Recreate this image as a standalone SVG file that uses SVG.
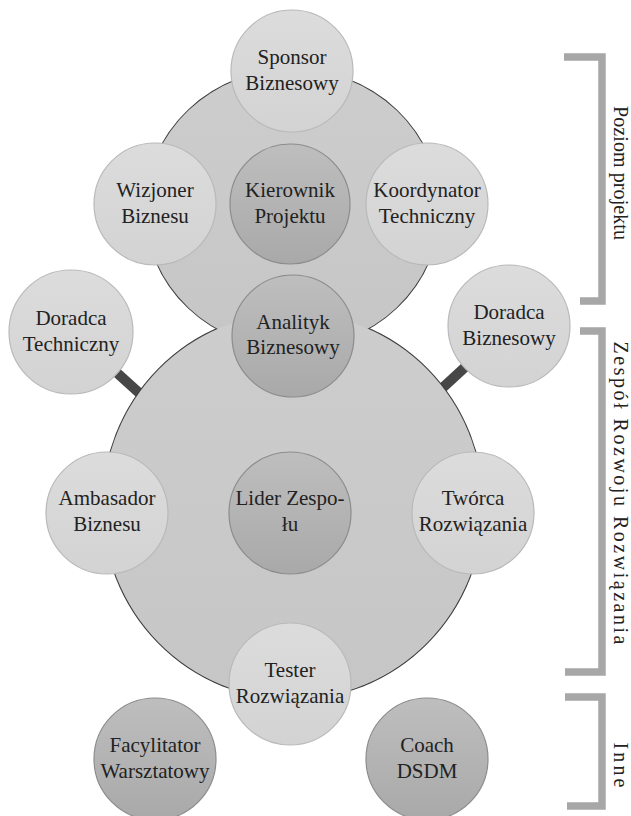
<svg xmlns="http://www.w3.org/2000/svg" width="631" height="816" viewBox="0 0 631 816">
<style>
.big-s{fill:none;stroke:#3c3c3c;stroke-width:2}
.big-f{fill:url(#gBig)}
.lt{fill:url(#gLight);stroke:#b9b9b9;stroke-width:1.2}
.dk{fill:url(#gDark);stroke:#8c8c8c;stroke-width:1.2}
.conn{stroke:#474747;stroke-width:10}
.br{fill:none;stroke:#a7a7a7;stroke-width:7.5}
</style>
<defs>
<linearGradient id="gBig" x1="0" y1="0" x2="0" y2="1"><stop offset="0" stop-color="#cdcdcd"/><stop offset="1" stop-color="#c6c6c6"/></linearGradient>
<linearGradient id="gLight" x1="0" y1="0" x2="0" y2="1"><stop offset="0" stop-color="#dcdcdc"/><stop offset="1" stop-color="#d3d3d3"/></linearGradient>
<linearGradient id="gDark" x1="0" y1="0" x2="0" y2="1"><stop offset="0" stop-color="#bebebe"/><stop offset="1" stop-color="#a9a9a9"/></linearGradient>
</defs>

<g id="connectors">
<line class="conn" x1="105" y1="362" x2="158" y2="410"/>
<line class="conn" x1="475" y1="358" x2="425" y2="404"/>
</g>

<g id="group-areas">
<ellipse class="big-s" cx="292.5" cy="209" rx="147" ry="139.5"/>
<ellipse class="big-s" cx="293" cy="506" rx="190" ry="193"/>
<ellipse class="big-f" cx="292.5" cy="209" rx="147" ry="139.5"/>
<ellipse class="big-f" cx="293" cy="506" rx="190" ry="193"/>
</g>

<g id="nodes" font-family="Liberation Serif" font-size="21" fill="#222" text-anchor="middle">
<g id="sponsor"><circle class="lt" cx="292" cy="71" r="61"/><text x="292" y="64">Sponsor</text><text x="292" y="90">Biznesowy</text></g>
<g id="wizjoner"><circle class="lt" cx="155" cy="204" r="61"/><text x="155" y="197">Wizjoner</text><text x="155" y="223">Biznesu</text></g>
<g id="kierownik"><circle class="dk" cx="290" cy="204" r="60"/><text x="290" y="197">Kierownik</text><text x="290" y="223">Projektu</text></g>
<g id="koordynator"><circle class="lt" cx="427" cy="204" r="61"/><text x="427" y="197">Koordynator</text><text x="427" y="223">Techniczny</text></g>
<g id="doradca-techniczny"><circle class="lt" cx="71" cy="332" r="62"/><text x="71" y="325">Doradca</text><text x="71" y="351">Techniczny</text></g>
<g id="doradca-biznesowy"><circle class="lt" cx="509" cy="326" r="61"/><text x="509" y="319">Doradca</text><text x="509" y="345">Biznesowy</text></g>
<g id="analityk"><circle class="dk" cx="293" cy="336" r="61"/><text x="293" y="329">Analityk</text><text x="293" y="354">Biznesowy</text></g>
<g id="ambasador"><circle class="lt" cx="107" cy="513" r="61"/><text x="107" y="505">Ambasador</text><text x="107" y="531">Biznesu</text></g>
<g id="lider"><circle class="dk" cx="290" cy="513" r="61"/><text x="290" y="505">Lider Zespo-</text><text x="290" y="531">łu</text></g>
<g id="tworca"><circle class="lt" cx="473" cy="513" r="61"/><text x="473" y="505">Twórca</text><text x="473" y="531">Rozwiązania</text></g>
<g id="tester"><circle class="lt" cx="290" cy="684" r="61"/><text x="290" y="677">Tester</text><text x="290" y="703">Rozwiązania</text></g>
<g id="facylitator"><circle class="dk" cx="155" cy="759" r="61"/><text x="155" y="752">Facylitator</text><text x="155" y="778">Warsztatowy</text></g>
<g id="coach"><circle class="dk" cx="427" cy="759" r="61"/><text x="427" y="752">Coach</text><text x="427" y="778">DSDM</text></g>
</g>

<g id="brackets" font-family="Liberation Serif" font-size="20" fill="#222" text-anchor="middle">
<g id="bracket-poziom"><path class="br" d="M564,57 H602 V301 H580"/><text transform="translate(614,173) rotate(90)" textLength="134" lengthAdjust="spacing">Poziom projektu</text></g>
<g id="bracket-zespol"><path class="br" d="M580,331 H602 V672 H565"/><text transform="translate(614,493) rotate(90)" textLength="303" lengthAdjust="spacing">Zespół Rozwoju Rozwiązania</text></g>
<g id="bracket-inne"><path class="br" d="M565,697 H602 V806 H567"/><text transform="translate(614,765) rotate(90)" textLength="45" lengthAdjust="spacing">Inne</text></g>
</g>
</svg>
